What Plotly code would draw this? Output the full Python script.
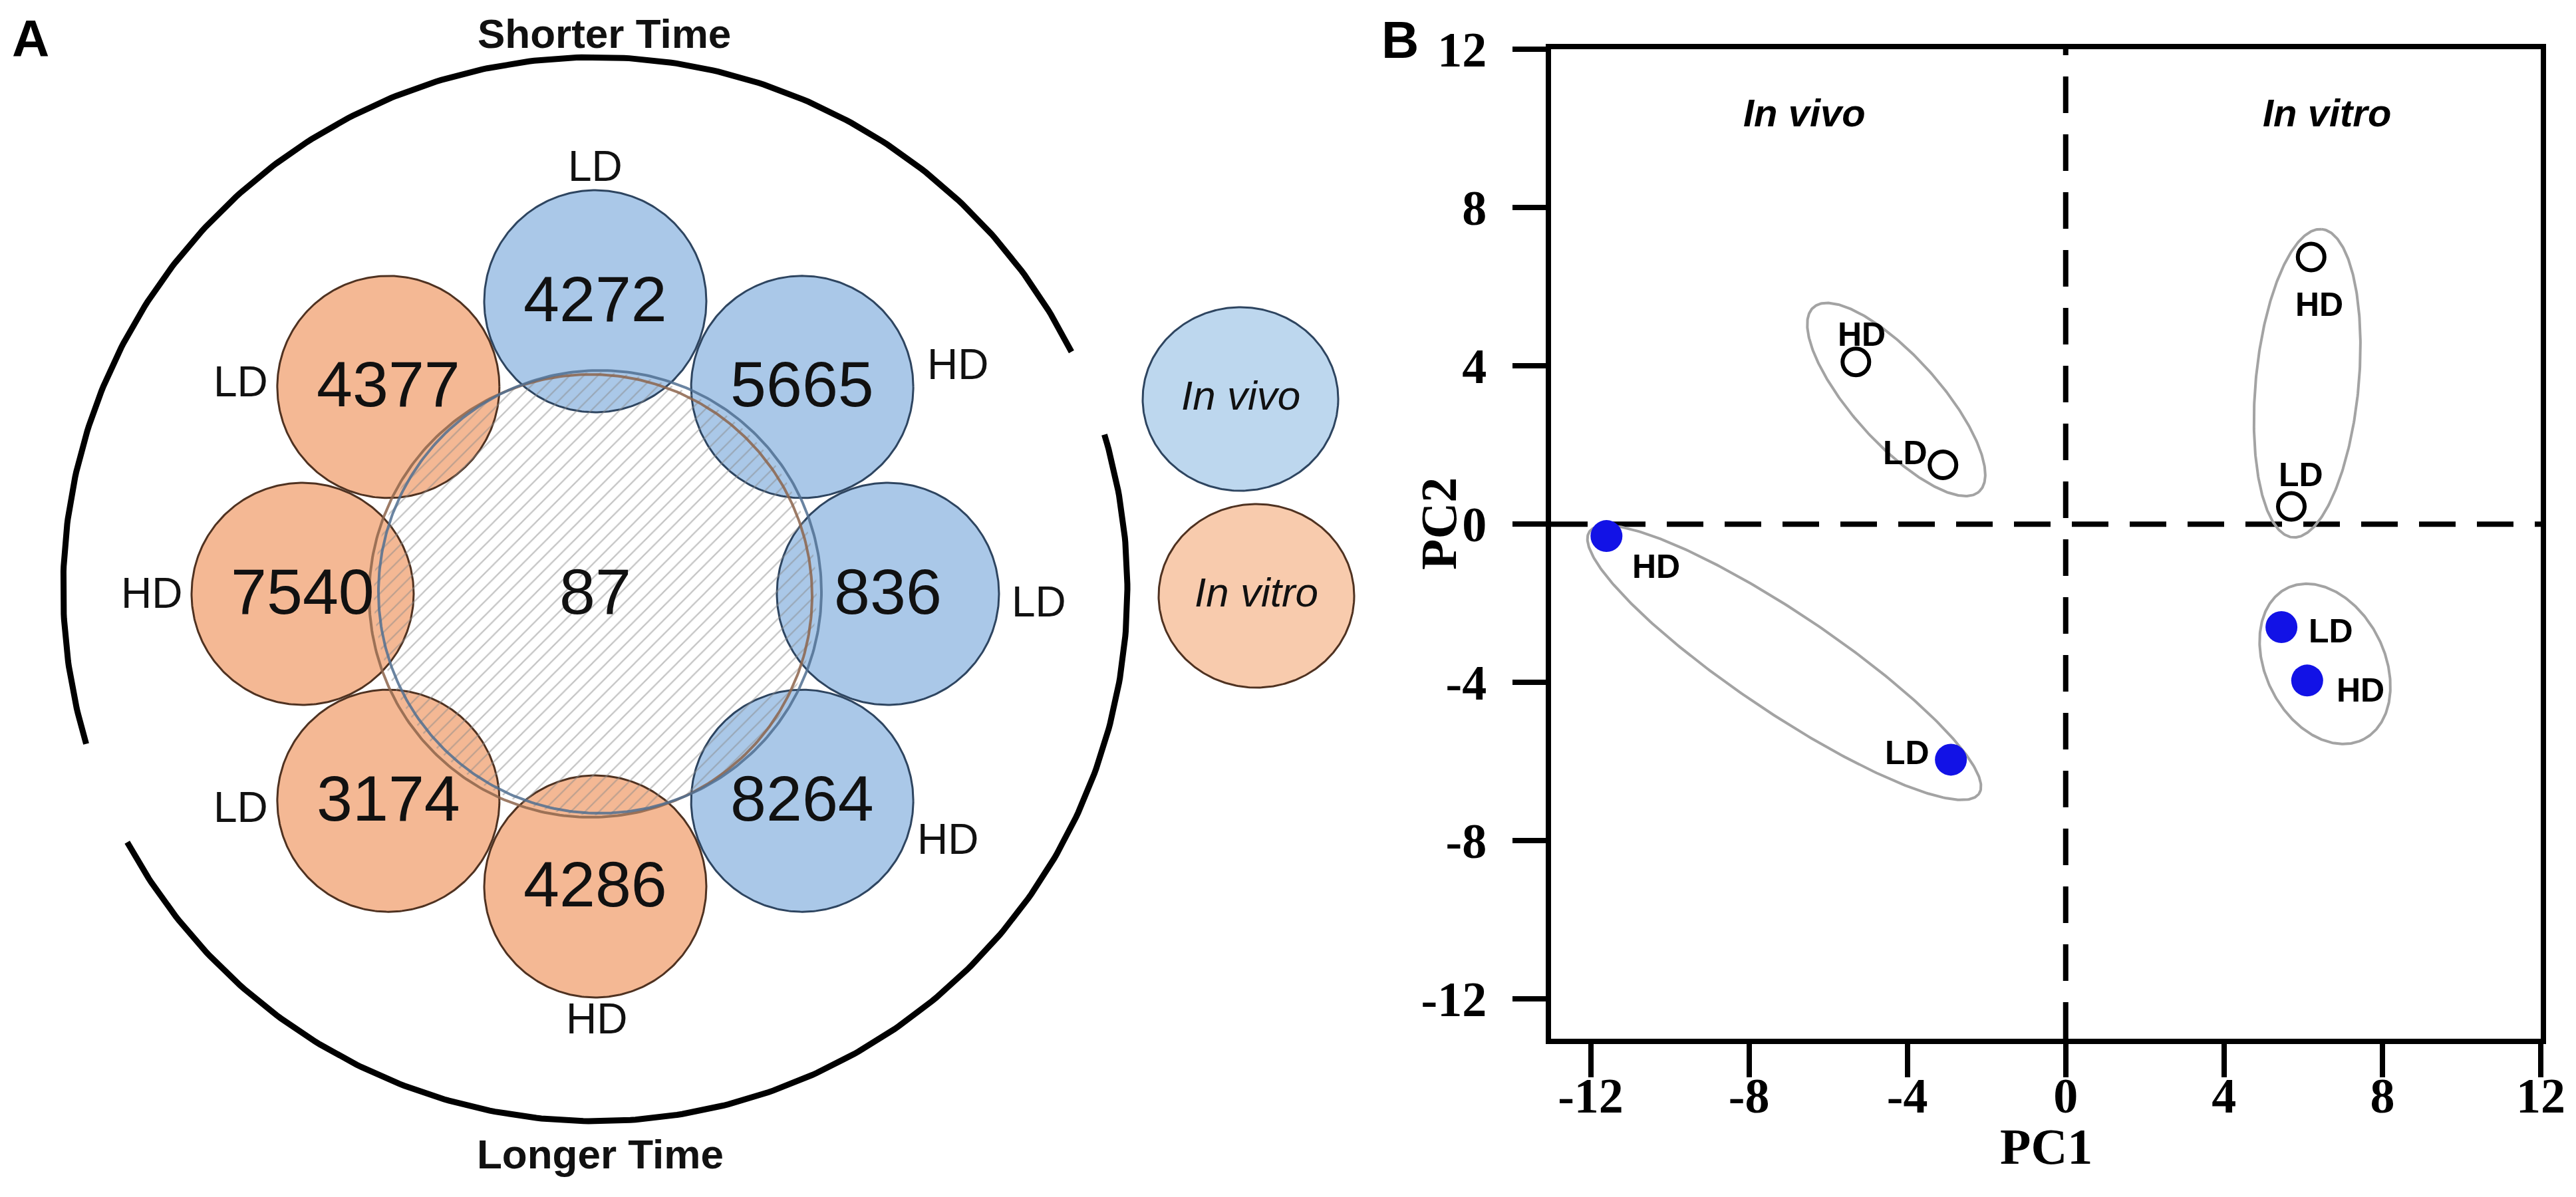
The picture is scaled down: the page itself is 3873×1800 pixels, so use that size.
import numpy as np
import plotly.graph_objects as go

W, H = 3873, 1800

# ---------------- Panel A data ----------------
venn_counts = [4272, 5665, 836, 8264, 4286, 3174, 7540, 4377]
venn_dose = ["LD", "HD", "LD", "HD", "HD", "LD", "HD", "LD"]
venn_group = ["In vivo", "In vivo", "In vivo", "In vivo",
              "In vitro", "In vitro", "In vitro", "In vitro"]
core_count = 87
time_labels = ["Shorter Time", "Longer Time"]
legend_groups = ["In vivo", "In vitro"]

# ---------------- Panel B data ----------------
open_x = [-5.3, -3.1, 6.2, 5.7]
open_y = [4.1, 1.5, 6.75, 0.45]
open_lbl = ["HD", "LD", "HD", "LD"]
fill_x = [-11.6, -2.9, 5.45, 6.1]
fill_y = [-0.3, -5.95, -2.6, -3.95]
fill_lbl = ["HD", "LD", "LD", "HD"]
tick_vals = [-12, -8, -4, 0, 4, 8, 12]
tick_text = ["-12", "-8", "-4", "0", "4", "8", "12"]
region_lbl = ["In vivo", "In vitro"]

# ---------------- layout constants (panel A, pixel space) ----------------
CX, CY, RING, RS = 895, 893, 440, 167
ANG = [90, 45, 0, -45, -90, -135, 180, 135]
LBL_POS = [(895, 250), (1440, 548), (1562, 905), (1425, 1262),
           (897, 1532), (362, 1214), (228, 892), (362, 574)]
OCX, OCY, OR = 895, 886, 800
ARCS = [(26.5, 196.9), (208.4, 376.9)]
TIME_POS = [(908, 50), (902, 1735)]
LEG_POS = [(1865, 600), (1889, 896)]
LEG_R = (147, 138)

FILL = {"In vivo": "#AAC8E8", "In vitro": "#F4B894"}
EDGE = {"In vivo": "#2E4560", "In vitro": "#4F3221"}
LEG_FILL = {"In vivo": "#BDD7EE", "In vitro": "#F8CBAD"}

# label positions (data units) for panel B
OPEN_LBL_POS = [(-5.15, 4.8), (-4.05, 1.8), (6.4, 5.55), (5.95, 1.25)]
FILL_LBL_POS = [(-10.35, -1.07), (-4.0, -5.77), (6.7, -2.7), (7.45, -4.2)]
REGION_POS = [(-6.6, 10.4), (6.6, 10.4)]
ELLIPSES = [(-4.28, 3.15, 3.13, 1.1, -48), (6.1, 3.56, 3.91, 1.3, 84.6),
            (-7.11, -3.5, 5.93, 1.25, -33.9), (6.55, -3.53, 2.14, 1.5, -63)]

SANS = "Liberation Sans, Arial, sans-serif"
SERIF = "Liberation Serif, Times New Roman, serif"


def ellipse_pts(cx, cy, rx, ry, ang_deg=0.0, flip=False, n=361):
    t = np.linspace(0, 2 * np.pi, n)
    a = np.deg2rad(ang_deg)
    x = rx * np.cos(t)
    y = ry * np.sin(t)
    xr = cx + x * np.cos(a) - y * np.sin(a)
    yr = y * np.cos(a) + x * np.sin(a)
    yr = cy - yr if flip else cy + yr
    return xr, yr


fig = go.Figure()
ann = []

# ---- small circles ----
centers = []
for i, cnt in enumerate(venn_counts):
    a = np.deg2rad(ANG[i])
    cx = CX + RING * np.cos(a)
    cy = CY - RING * np.sin(a)
    centers.append((cx, cy))
    g = venn_group[i]
    xs, ys = ellipse_pts(cx, cy, RS, RS, flip=True)
    fig.add_trace(go.Scatter(x=xs, y=ys, xaxis="x2", yaxis="y2", mode="lines",
                             fill="toself", fillcolor=FILL[g],
                             line=dict(color=EDGE[g], width=3),
                             hoverinfo="skip", showlegend=False))

# ---- hatched core ----
xs, ys = ellipse_pts(CX, CY, 333, 333, flip=True)
fig.add_trace(go.Scatter(x=xs, y=ys, xaxis="x2", yaxis="y2", mode="lines",
                         fill="toself", fillcolor="rgba(255,255,255,0)",
                         fillpattern=dict(shape="/", fgcolor="#8a8a8a",
                                          bgcolor="rgba(255,255,255,0)",
                                          size=15, solidity=0.15, fillmode="overlay"),
                         line=dict(color="rgba(0,0,0,0)", width=0),
                         hoverinfo="skip", showlegend=False))
for (dx, dy, col) in [(-7, 3, "rgba(140,100,75,0.85)"), (7, -3, "rgba(80,110,145,0.85)")]:
    xs, ys = ellipse_pts(CX + dx, CY + dy, 333, 333, flip=True)
    fig.add_trace(go.Scatter(x=xs, y=ys, xaxis="x2", yaxis="y2", mode="lines",
                             line=dict(color=col, width=4),
                             hoverinfo="skip", showlegend=False))

# ---- outer arcs ----
for (t0, t1) in ARCS:
    t = np.deg2rad(np.linspace(t0, t1, 300))
    fig.add_trace(go.Scatter(x=OCX + OR * np.cos(t), y=OCY - OR * np.sin(t),
                             xaxis="x2", yaxis="y2", mode="lines",
                             line=dict(color="black", width=9),
                             hoverinfo="skip", showlegend=False))

# ---- legend ellipses ----
for i, g in enumerate(legend_groups):
    lx, ly = LEG_POS[i]
    xs, ys = ellipse_pts(lx, ly, LEG_R[0], LEG_R[1], flip=True)
    fig.add_trace(go.Scatter(x=xs, y=ys, xaxis="x2", yaxis="y2", mode="lines",
                             fill="toself", fillcolor=LEG_FILL[g],
                             line=dict(color=EDGE[g], width=3),
                             hoverinfo="skip", showlegend=False))
    ann.append(dict(x=lx, y=ly - 6, xref="x2", yref="y2", text=f"<i>{g}</i>",
                    showarrow=False, font=dict(family=SANS, size=62, color="#111"),
                    xanchor="center", yanchor="middle"))

# ---- panel A text ----
for i, cnt in enumerate(venn_counts):
    cx, cy = centers[i]
    ann.append(dict(x=cx, y=cy - 4, xref="x2", yref="y2", text=str(cnt), showarrow=False,
                    font=dict(family=SANS, size=97, color="#111"),
                    xanchor="center", yanchor="middle"))
    lx, ly = LBL_POS[i]
    ann.append(dict(x=lx, y=ly, xref="x2", yref="y2", text=venn_dose[i], showarrow=False,
                    font=dict(family=SANS, size=64, color="#111"),
                    xanchor="center", yanchor="middle"))
ann.append(dict(x=CX, y=CY - 4, xref="x2", yref="y2", text=str(core_count), showarrow=False,
                font=dict(family=SANS, size=97, color="#111"),
                xanchor="center", yanchor="middle"))
for i, tl in enumerate(time_labels):
    tx, ty = TIME_POS[i]
    ann.append(dict(x=tx, y=ty, xref="x2", yref="y2", text=f"<b>{tl}</b>", showarrow=False,
                    font=dict(family=SANS, size=62, color="#111"),
                    xanchor="center", yanchor="middle"))

# panel letters
ann.append(dict(x=46 / W, y=1 - 58 / H, xref="paper", yref="paper", text="<b>A</b>",
                showarrow=False, font=dict(family=SANS, size=78, color="black"),
                xanchor="center", yanchor="middle"))
ann.append(dict(x=2105 / W, y=1 - 60 / H, xref="paper", yref="paper", text="<b>B</b>",
                showarrow=False, font=dict(family=SANS, size=78, color="black"),
                xanchor="center", yanchor="middle"))

# ---------------- Panel B ----------------
for (ex, ey, ea, eb, eang) in ELLIPSES:
    xs, ys = ellipse_pts(ex, ey, ea, eb, eang)
    fig.add_trace(go.Scatter(x=xs, y=ys, mode="lines",
                             line=dict(color="#a3a3a3", width=4),
                             hoverinfo="skip", showlegend=False))

fig.add_trace(go.Scatter(x=open_x, y=open_y, mode="markers",
                         marker=dict(symbol="circle", size=40, color="white",
                                     line=dict(color="black", width=6)),
                         hoverinfo="skip", showlegend=False))
fig.add_trace(go.Scatter(x=fill_x, y=fill_y, mode="markers",
                         marker=dict(symbol="circle", size=48, color="#1212E6",
                                     line=dict(width=0)),
                         hoverinfo="skip", showlegend=False))

for i, t in enumerate(open_lbl):
    ann.append(dict(x=OPEN_LBL_POS[i][0], y=OPEN_LBL_POS[i][1], xref="x", yref="y",
                    text=f"<b>{t}</b>", showarrow=False,
                    font=dict(family=SANS, size=50, color="black"),
                    xanchor="center", yanchor="middle"))
for i, t in enumerate(fill_lbl):
    ann.append(dict(x=FILL_LBL_POS[i][0], y=FILL_LBL_POS[i][1], xref="x", yref="y",
                    text=f"<b>{t}</b>", showarrow=False,
                    font=dict(family=SANS, size=50, color="black"),
                    xanchor="center", yanchor="middle"))
for i, t in enumerate(region_lbl):
    ann.append(dict(x=REGION_POS[i][0], y=REGION_POS[i][1], xref="x", yref="y",
                    text=f"<b><i>{t}</i></b>", showarrow=False,
                    font=dict(family=SANS, size=58, color="black"),
                    xanchor="center", yanchor="middle"))

# axis titles
XD = [2332 / W, 3820 / W]
YD = [1 - 1562 / H, 1 - 74 / H]
ann.append(dict(x=(XD[0] + XD[1]) / 2, y=1 - 1724 / H, xref="paper", yref="paper",
                text="<b>PC1</b>", showarrow=False,
                font=dict(family=SERIF, size=76, color="black"),
                xanchor="center", yanchor="middle"))
ann.append(dict(x=2163 / W, y=1 - 788 / H, xref="paper", yref="paper",
                text="<b>PC2</b>", showarrow=False, textangle=-90,
                font=dict(family=SERIF, size=76, color="black"),
                xanchor="center", yanchor="middle"))

shapes = [
    dict(type="line", xref="x", yref="y", x0=-13, x1=12, y0=0, y1=0, layer="below",
         line=dict(color="black", width=8, dash="55px,32px")),
    dict(type="line", xref="x", yref="y", x0=0, x1=0, y0=-13, y1=12, layer="below",
         line=dict(color="black", width=8, dash="55px,32px")),
]

axis_common = dict(showgrid=False, zeroline=False, showline=True, linewidth=8,
                   linecolor="black", mirror=True, ticks="outside", ticklen=50,
                   tickwidth=8, tickcolor="black", tickvals=tick_vals, ticktext=tick_text,
                   tickfont=dict(family=SERIF, size=74, color="black", weight="bold"),
                   range=[-13, 12], fixedrange=True, automargin=False)

fig.update_layout(
    width=W, height=H,
    margin=dict(l=0, r=0, t=0, b=0, pad=0, autoexpand=False),
    paper_bgcolor="white", plot_bgcolor="white",
    xaxis=dict(domain=XD, ticklabelstandoff=-36, **axis_common),
    yaxis=dict(domain=YD, ticklabelstandoff=24, **axis_common),
    xaxis2=dict(domain=[0, 2100 / W], range=[0, 2100], visible=False, fixedrange=True,
                automargin=False, anchor="y2"),
    yaxis2=dict(domain=[0, 1], range=[1800, 0], visible=False, fixedrange=True,
                automargin=False, anchor="x2"),
    annotations=ann, shapes=shapes, showlegend=False,
)

fig.write_html("out.html")
